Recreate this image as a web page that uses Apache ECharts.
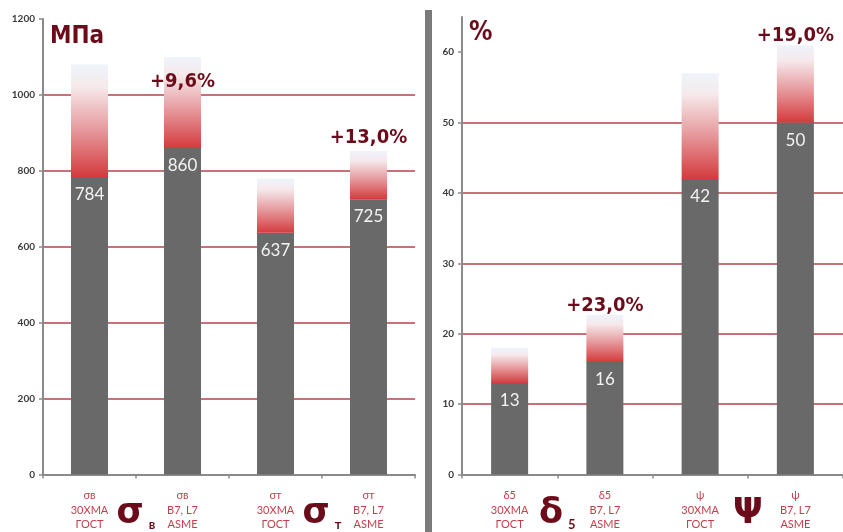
<!DOCTYPE html>
<html>
<head>
<meta charset="utf-8">
<script src="https://cdn.jsdelivr.net/npm/echarts@6/dist/echarts.min.js"></script>
<style>
  html, body { margin: 0; padding: 0; background: #fff; }
  #chart { width: 843px; height: 532px; }
</style>
</head>
<body>
<div id="chart"></div>
<script>
// Strength, MPa
const strengthCats = ['σв\n30ХМА\nГОСТ', 'σв\nB7, L7\nASME', 'σт\n30ХМА\nГОСТ', 'σт\nB7, L7\nASME'];
const strengthValues = [784, 860, 637, 725];
const strengthUpper = [1080, 1100, 780, 852];
const strengthGain = ['', '+9,6%', '', '+13,0%'];
const strengthGainAt = [null, 1035, null, 888];
const strengthGroups = ['σ|в', 'σ|т'];
const strengthTicks = [0, 200, 400, 600, 800, 1000, 1200];

// Ductility, %
const ductCats = ['δ5\n30ХМА\nГОСТ', 'δ5\nB7, L7\nASME', 'ψ\n30ХМА\nГОСТ', 'ψ\nB7, L7\nASME'];
const ductValues = [13, 16, 42, 50];
const ductUpper = [18, 22.7, 57, 61];
const ductGain = ['', '+23,0%', '', '+19,0%'];
const ductGainAt = [null, 24, null, 62.3];
const ductGroups = ['δ|5', 'Ψ|'];
const ductTicks = [0, 10, 20, 30, 40, 50, 60];

const DARK_RED = '#6c0c1a';
const LABEL_RED = '#c2404c';
const GRID_RED = '#b0444c';
const AXIS_GRAY = '#8a8a8a';
const BAR_GRAY = '#696969';
const NARROW = '"DejaVu Sans Condensed", "Liberation Sans Narrow", "Arial Narrow", sans-serif';
const BODY = 'Lato, "Open Sans", "Liberation Sans", sans-serif';

const fade = new echarts.graphic.LinearGradient(0, 0, 0, 1, [
  { offset: 0, color: '#eef4fb' },
  { offset: 0.2, color: '#f6e9eb' },
  { offset: 0.55, color: '#e7a0a3' },
  { offset: 1, color: '#d43b3d' }
]);

function diff(a, b) { return a.map((v, i) => +(v - b[i]).toFixed(2)); }

function valueAxis(grid, max, interval, ticks) {
  return {
    type: 'value', gridIndex: grid, min: 0, max: max, interval: interval,
    axisLine: { show: true, lineStyle: { color: AXIS_GRAY, width: 2 } },
    axisTick: { show: true, length: 4, customValues: ticks, lineStyle: { color: AXIS_GRAY, width: 1.5 } },
    axisLabel: {
      customValues: ticks, formatter: v => String(v),
      color: '#3a3a3a', fontSize: 10, fontFamily: BODY, fontWeight: 'bold', margin: 8
    },
    splitLine: { show: true, showMaxLine: false, lineStyle: { color: GRID_RED, width: 1.6 } }
  };
}

function catAxis(grid, cats) {
  return {
    type: 'category', gridIndex: grid, data: cats,
    axisLine: { lineStyle: { color: AXIS_GRAY, width: 2 } },
    axisTick: { show: true, length: 4, lineStyle: { color: AXIS_GRAY, width: 1.5 } },
    axisLabel: { color: LABEL_RED, fontSize: 11, lineHeight: 14.5, fontFamily: BODY, margin: 14, interval: 0 }
  };
}

function groupAxis(grid, groups) {
  return {
    type: 'category', gridIndex: grid, data: groups, position: 'bottom',
    axisLine: { show: false }, axisTick: { show: false },
    axisLabel: {
      interval: 0, margin: 21,
      formatter: v => { const p = v.split('|'); return '{big|' + p[0] + '}' + (p[1] ? '{sub|' + p[1] + '}' : ''); },
      rich: {
        big: { fontSize: 35, fontWeight: 'bold', color: DARK_RED, fontFamily: '"DejaVu Sans", sans-serif', verticalAlign: 'bottom', lineHeight: 36 },
        sub: { fontSize: 13, fontWeight: 'bold', color: DARK_RED, fontFamily: BODY, verticalAlign: 'bottom', padding: [0, 0, 0, 5], lineHeight: 36 }
      }
    }
  };
}

function barSeries(ax, values, upper, gain, gainAt) {
  return [
    {
      type: 'bar', xAxisIndex: ax, yAxisIndex: ax, stack: 's' + ax, data: values,
      barWidth: 37, itemStyle: { color: BAR_GRAY },
      label: { show: true, position: 'insideTop', distance: 9, color: '#f3f3f3', fontSize: 17, fontFamily: BODY, textBorderWidth: 0 },
      z: 3
    },
    {
      type: 'bar', xAxisIndex: ax, yAxisIndex: ax, stack: 's' + ax, data: diff(upper, values),
      barWidth: 37, itemStyle: { color: fade }, z: 3
    },
    {
      type: 'scatter', xAxisIndex: ax, yAxisIndex: ax, symbolSize: 0, data: gainAt, z: 5,
      itemStyle: { color: DARK_RED, opacity: 1 },
      label: {
        show: true, position: 'inside', color: DARK_RED, opacity: 1, fontSize: 20, fontWeight: 'bold', fontFamily: NARROW,
        textBorderWidth: 0, formatter: p => gain[p.dataIndex]
      }
    }
  ];
}

const chart = echarts.init(document.getElementById('chart'), null, { renderer: 'canvas' });

chart.setOption({
  animation: false,
  backgroundColor: '#ffffff',
  grid: [
    { left: 43, right: 428, top: 19, bottom: 52 },
    { left: 462, right: 0, top: 17, bottom: 52 }
  ],
  xAxis: [
    catAxis(0, strengthCats), catAxis(1, ductCats),
    groupAxis(0, strengthGroups), groupAxis(1, ductGroups)
  ],
  yAxis: [
    valueAxis(0, 1200, 200, strengthTicks),
    valueAxis(1, 65, 10, ductTicks)
  ],
  series: [
    ...barSeries(0, strengthValues, strengthUpper, strengthGain, strengthGainAt),
    ...barSeries(1, ductValues, ductUpper, ductGain, ductGainAt)
  ],
  graphic: [
    { type: 'rect', left: 425, top: 10, shape: { width: 7, height: 522 }, style: { fill: '#7a7a7a' } },
    { type: 'text', left: 50, top: 25, style: { text: 'МПа', fill: DARK_RED, font: 'bold 24px ' + NARROW } },
    { type: 'text', left: 469, top: 20, style: { text: '%', fill: DARK_RED, font: 'bold 26px ' + NARROW } }
  ]
});
</script>
</body>
</html>
